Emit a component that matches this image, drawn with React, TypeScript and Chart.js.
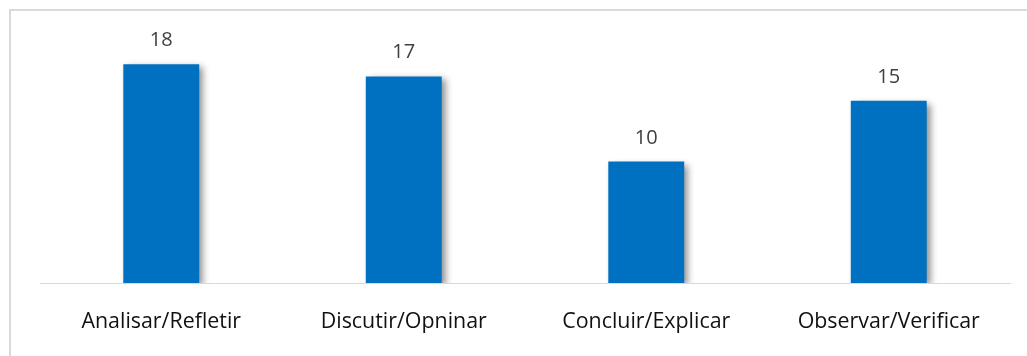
import React, { useEffect, useRef } from "react";
import { Chart, registerables } from "chart.js";

Chart.register(...registerables);

const categories = ["Analisar/Refletir", "Discutir/Opninar", "Concluir/Explicar", "Observar/Verificar"];
const values = [18, 17, 10, 15];

const W = 1027;
const H = 356;
const FONT = "'Open Sans'";

const framePlugin = {
  id: "frame",
  beforeDraw(chart: any) {
    const ctx = chart.ctx;
    ctx.save();
    ctx.fillStyle = "#ffffff";
    ctx.fillRect(0, 0, chart.width, chart.height);
    ctx.fillStyle = "#d9d9d9";
    ctx.fillRect(9, 9, chart.width - 9, 2);
    ctx.fillRect(9, 9, 2, chart.height - 9);
    ctx.restore();
  },
};

const shadowPlugin = {
  id: "barShadow",
  beforeDatasetDraw(chart: any) {
    const ctx = chart.ctx;
    ctx.save();
    ctx.shadowColor = "rgba(0,0,0,0.45)";
    ctx.shadowBlur = 7;
    ctx.shadowOffsetX = 4;
    ctx.shadowOffsetY = 3;
  },
  afterDatasetDraw(chart: any) {
    chart.ctx.restore();
  },
};

const valueLabelPlugin = {
  id: "valueLabels",
  afterDatasetsDraw(chart: any) {
    const ctx = chart.ctx;
    const meta = chart.getDatasetMeta(0);
    ctx.save();
    ctx.fillStyle = "#404040";
    ctx.font = "20px " + FONT;
    ctx.textAlign = "center";
    ctx.textBaseline = "alphabetic";
    meta.data.forEach((bar: any, i: number) => {
      ctx.fillText(String(chart.data.datasets[0].data[i]), bar.x, bar.y - 18);
    });
    ctx.restore();
  },
};

export default function App() {
  const ref = useRef<HTMLCanvasElement | null>(null);
  useEffect(() => {
    document.body.style.margin = "0";
    if (!ref.current) return;
    const chart = new Chart(ref.current, {
      type: "bar",
      data: {
        labels: categories,
        datasets: [
          {
            data: values,
            backgroundColor: "#0070C0",
            borderWidth: 0,
            barPercentage: 0.313,
            categoryPercentage: 1,
          },
        ],
      },
      options: {
        responsive: false,
        animation: false,
        devicePixelRatio: 1,
        layout: { padding: { left: 40, right: 17, top: 40, bottom: 0 } },
        plugins: { legend: { display: false }, tooltip: { enabled: false } },
        scales: {
          x: {
            grid: { display: false, drawTicks: false },
            border: { display: true, color: "#d9d9d9", width: 1 },
            ticks: { color: "#111111", font: { family: FONT, size: 21.4 }, padding: 26, maxRotation: 0 },
            afterFit(scale: any) {
              scale.height = 73;
            },
          },
          y: {
            display: false,
            min: 0,
            max: 20,
          },
        },
      },
      plugins: [framePlugin, shadowPlugin, valueLabelPlugin],
    });
    return () => chart.destroy();
  }, []);
  return (
    <div style={{ width: W, height: H, overflow: "hidden" }}>
      <canvas ref={ref} width={W} height={H} style={{ display: "block", width: W, height: H }} />
    </div>
  );
}
